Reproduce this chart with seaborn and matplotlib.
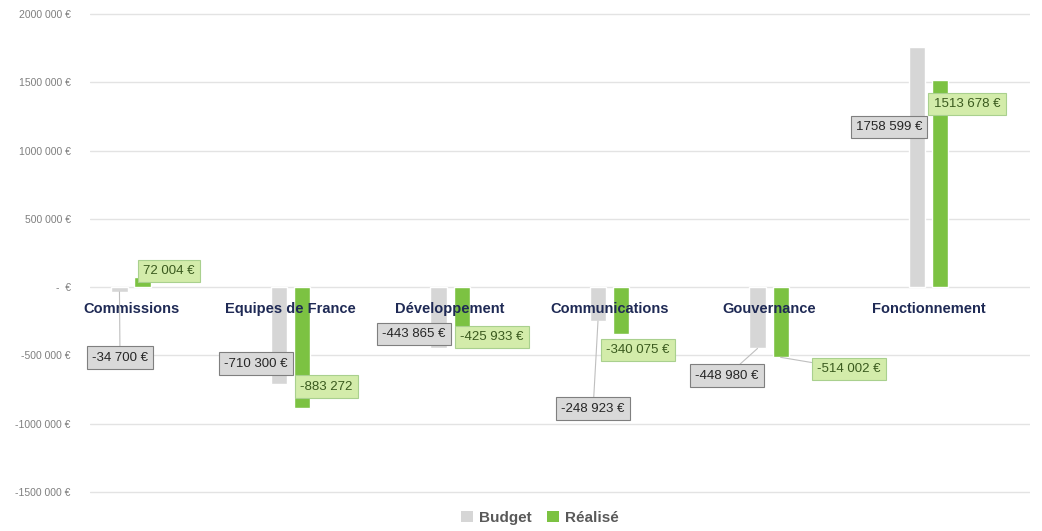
import matplotlib
matplotlib.use("Agg")
import matplotlib.pyplot as plt
import matplotlib.ticker as mticker
from matplotlib.patches import Patch
import pandas as pd
import seaborn as sns

categories = ["Commissions", "Equipes de France", "Développement",
              "Communications", "Gouvernance", "Fonctionnement"]
series = ["Budget", "Réalisé"]
budget = [-34700, -710300, -443865, -248923, -448980, 1758599]
realise = [72004, -883272, -425933, -340075, -514002, 1513678]
budget_labels = ["-34 700 €", "-710 300 €", "-443 865 €", "-248 923 €", "-448 980 €", "1758 599 €"]
realise_labels = ["72 004 €", "-883 272", "-425 933 €", "-340 075 €", "-514 002 €", "1513 678 €"]
y_ticks = [-1500000, -1000000, -500000, 0, 500000, 1000000, 1500000, 2000000]
y_tick_labels = ["-1500 000 €", "-1000 000 €", "-500 000 €", "-  €",
                 "500 000 €", "1000 000 €", "1500 000 €", "2000 000 €"]

# label box placement (offset from category centre, y in data units) + leader lines
budget_pos = [(-0.069, -517000), (-0.216, -561000), (-0.226, -343000),
              (-0.103, -889000), (-0.263, -649000), (-0.248, 1173000)]
realise_pos = [(0.238, 117000), (0.223, -729000), (0.263, -364000),
               (0.179, -459000), (0.502, -598000), (0.241, 1341000)]
budget_leader = [True, False, False, True, True, False]
realise_leader = [False, False, False, False, True, False]

GREY = "#D6D6D6"
GREEN = "#7CC242"

df = pd.DataFrame({
    "categorie": categories * 2,
    "serie": ["Budget"] * len(categories) + ["Réalisé"] * len(categories),
    "montant": budget + realise,
})

sns.set_theme(style="white")
plt.rcParams["font.family"] = ["Liberation Sans", "DejaVu Sans"]

fig = plt.figure(figsize=(10.42, 5.31), dpi=100)
# a little margin above 2M / below -1.5M so the outer gridlines are not clipped
ax = fig.add_axes([0.0864, 1 - 494.7 / 531, 0.9021, 483.4 / 531])

sns.barplot(data=df, x="categorie", y="montant", hue="serie", order=categories,
            hue_order=series, palette=[GREY, GREEN], width=0.29, gap=0.3,
            saturation=1, ax=ax)
ax.get_legend().remove()

ax.set_ylim(-1520000, 2020000)
ax.set_xlim(-0.257, 5.636)
ax.yaxis.set_major_locator(mticker.FixedLocator(y_ticks))
ax.set_yticklabels(y_tick_labels, fontsize=7.5, color="#7F7F7F")
ax.tick_params(axis="y", length=0, pad=14)
ax.set_xticks([])
ax.set_xlabel("")
ax.set_ylabel("")
ax.grid(axis="y", color="#E3E3E3", linewidth=1)
ax.set_axisbelow(True)
for s in ax.spines.values():
    s.set_visible(False)

for i, cat in enumerate(categories):
    ax.annotate(cat, xy=(i, 0), xytext=(0, -16), textcoords="offset points",
                ha="center", va="center", fontsize=10.5, fontweight="bold",
                color="#1F2A55", zorder=4)

styles = [
    (budget_labels, budget_pos, budget_leader,
     dict(boxstyle="square,pad=0.4", fc="#D9D9D9", ec="#7F7F7F", lw=0.8), "#262626"),
    (realise_labels, realise_pos, realise_leader,
     dict(boxstyle="square,pad=0.4", fc="#D3ECAA", ec="#A9D08E", lw=0.8), "#3A5A1E"),
]
for container, (labels, pos, leaders, box, tcolor) in zip(ax.containers, styles):
    for i, bar in enumerate(container):
        bx = bar.get_x() + bar.get_width() / 2
        by = bar.get_y() + bar.get_height()
        dx, ly = pos[i]
        arrow = dict(arrowstyle="-", color="#BFBFBF", lw=0.8, shrinkA=0, shrinkB=0) if leaders[i] else None
        ax.annotate(labels[i], xy=(bx, by), xytext=(i + dx, ly), textcoords="data",
                    ha="center", va="center", fontsize=9.5, color=tcolor,
                    bbox=box, arrowprops=arrow, zorder=5)

handles = [Patch(facecolor=GREY, edgecolor="none"), Patch(facecolor=GREEN, edgecolor="none")]
leg = fig.legend(handles, series, loc="center", bbox_to_anchor=(0.518, 0.025), ncol=2,
                 frameon=False, handlelength=0.8, handleheight=0.8, handletextpad=0.4,
                 columnspacing=1.0, prop={"size": 11, "weight": "bold"})
for t in leg.get_texts():
    t.set_color("#595959")

fig.savefig("out.png", dpi=100, facecolor="white")
